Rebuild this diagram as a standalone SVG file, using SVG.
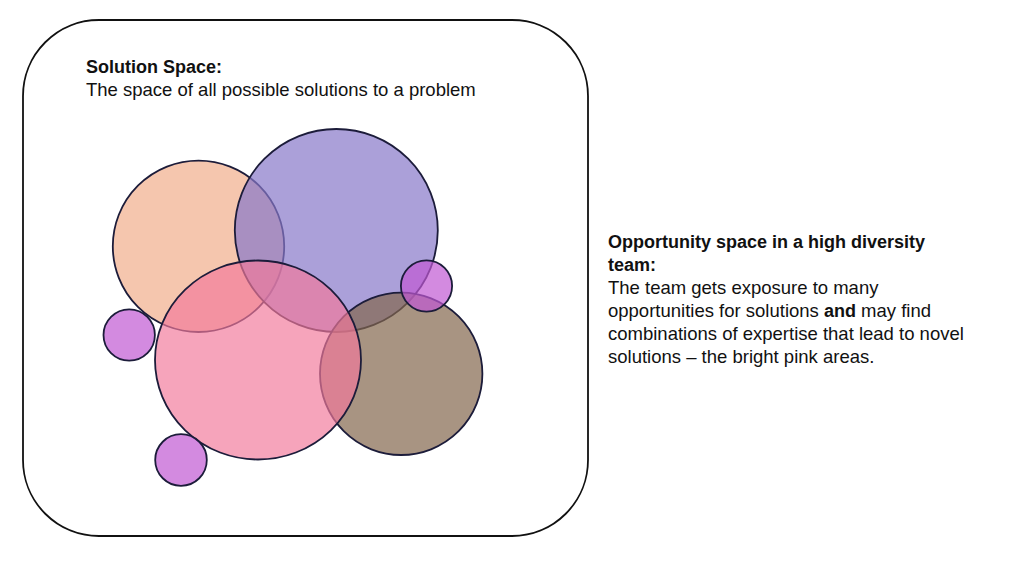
<svg xmlns="http://www.w3.org/2000/svg" width="1024" height="576" viewBox="0 0 1024 576">
<style>
.t{font-family:"Liberation Sans",Arial,sans-serif;font-size:18.5px;fill:#111}
.b{font-weight:bold;font-size:18px}
.c{stroke:#1c1c3a;stroke-width:1.8}
</style>
<rect width="1024" height="576" fill="#fff"/>
<g id="space">
<rect x="23" y="20" width="565" height="516" rx="76" ry="76" fill="none" stroke="#111" stroke-width="1.8"/>
<text class="t b" x="86" y="73">Solution Space:</text>
<text class="t" x="86" y="96">The space of all possible solutions to a problem</text>
</g>
<g id="circles">
<circle id="peach" class="c" cx="198.5" cy="246.3" r="85.7" fill="rgb(241,174,139)" fill-opacity="0.7"/>
<circle id="purple" class="c" cx="336.3" cy="230.5" r="101.5" fill="rgb(135,119,201)" fill-opacity="0.7"/>
<circle id="brown" class="c" cx="401.2" cy="373.8" r="81.2" fill="rgb(131,102,77)" fill-opacity="0.7"/>
<ellipse id="pink" class="c" cx="258" cy="360" rx="103" ry="99.5" fill="rgb(242,121,155)" fill-opacity="0.68"/>
<circle id="small-right" class="c" cx="426.5" cy="286" r="25.6" fill="rgb(192,88,211)" fill-opacity="0.7"/>
<circle id="small-left" class="c" cx="129.2" cy="335" r="25.7" fill="rgb(192,88,211)" fill-opacity="0.7"/>
<circle id="small-bottom" class="c" cx="181" cy="460" r="25.8" fill="rgb(192,88,211)" fill-opacity="0.7"/>
</g>
<g id="description">
<text class="t b" x="608" y="248">Opportunity space in a high diversity</text>
<text class="t b" x="608" y="271">team:</text>
<text class="t" x="608" y="294">The team gets exposure to many</text>
<text class="t" x="608" y="317">opportunities for solutions <tspan class="b">and</tspan> may find</text>
<text class="t" x="608" y="340">combinations of expertise that lead to novel</text>
<text class="t" x="608" y="363">solutions – the bright pink areas.</text>
</g>
</svg>
